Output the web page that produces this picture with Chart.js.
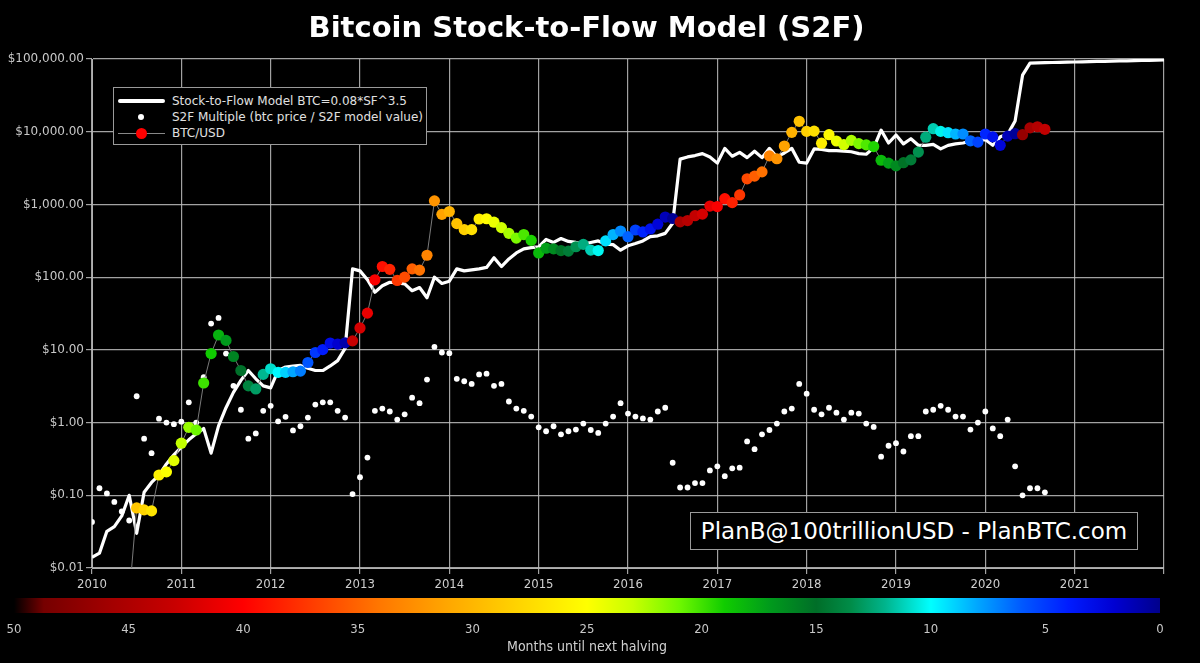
<!DOCTYPE html>
<html>
<head>
<meta charset="utf-8">
<script src="https://cdn.jsdelivr.net/npm/chart.js@4.4.0/dist/chart.umd.min.js"></script>
<style>
  body { margin: 0; background: #000; }
  #wrap { position: relative; width: 1200px; height: 663px; background: #000; overflow: hidden; font-family: 'DejaVu Sans', sans-serif; }
  #s2f { position: absolute; left: 0; top: 0; }
  .title { position: absolute; left: 0; top: 10px; width: 1173px; text-align: center; color: #fff; font: bold 29px 'DejaVu Sans', sans-serif; line-height: 34px; }
  .legend { position: absolute; left: 113px; top: 87px; width: 314px; height: 58px; box-sizing: border-box; border: 1px solid #9a9a9a; background: #000; color: #e0e0e0; font-size: 12px; padding-top: 5px; }
  .row { position: relative; height: 16px; line-height: 16px; padding-left: 58px; white-space: nowrap; }
  .sym { position: absolute; left: 4px; top: 0; width: 47px; height: 16px; }
  .ln { position: absolute; left: 0; top: 6px; width: 47px; height: 4px; background: #fff; border-radius: 2px; }
  .wd { position: absolute; left: 20px; top: 5px; width: 6px; height: 6px; border-radius: 50%; background: #fff; }
  .gl { position: absolute; left: 0; top: 8px; width: 47px; height: 1px; background: #888; }
  .rd { position: absolute; left: 18px; top: 3px; width: 11px; height: 11px; border-radius: 50%; background: #f00; }
  .mark { position: absolute; left: 690px; top: 512px; width: 448px; height: 38px; box-sizing: border-box; border: 1px solid #9a9a9a; background: #000; color: #fff; font-size: 23px; line-height: 36px; text-align: center; white-space: nowrap; }
  .cbar { position: absolute; left: 14px; top: 598px; width: 1146px; height: 15px; }
  .clab { position: absolute; top: 621px; width: 30px; margin-left: -15px; text-align: center; color: #c8c8c8; font: 13px 'DejaVu Sans Condensed', 'Liberation Sans Narrow', 'DejaVu Sans', sans-serif; }
  .ctitle { position: absolute; left: 0; top: 638px; width: 1174px; text-align: center; color: #d0d0d0; font: 14px 'DejaVu Sans Condensed', 'Liberation Sans Narrow', 'DejaVu Sans', sans-serif; }
</style>
</head>
<body>
<div id="wrap">
  <canvas id="s2f" width="1200" height="663"></canvas>
  <div class="title">Bitcoin Stock-to-Flow Model (S2F)</div>
  <div class="legend">
    <div class="row"><span class="sym"><i class="ln"></i></span>Stock-to-Flow Model BTC=0.08*SF^3.5</div>
    <div class="row"><span class="sym"><i class="wd"></i></span>S2F Multiple (btc price / S2F model value)</div>
    <div class="row"><span class="sym"><i class="gl"></i><i class="rd"></i></span>BTC/USD</div>
  </div>
  <div class="mark">PlanB@100trillionUSD - PlanBTC.com</div>
  <div class="cbar" id="cbar"></div>
  <div id="clabels"></div>
  <div class="ctitle">Months until next halving</div>
</div>
<script>
// monthly values, first month = Jan 2010
var startYear = 2010;

// S2F model value, Jan 2010 .. Jan 2022
var modelValues = [
  0.014, 0.016, 0.032, 0.037, 0.052, 0.10, 0.03, 0.11, 0.15, 0.19, 0.27, 0.36,
  0.46, 0.58, 0.70, 0.83, 0.38, 0.90, 1.6, 2.6, 3.8, 5.2, 4.0, 3.2,
  3.0, 5.2, 5.8, 6.0, 6.1, 5.6, 5.2, 5.2, 6.0, 7.1, 10.5, 130,
  122, 92, 62, 76, 85, 83, 81, 65, 72, 52, 100, 82,
  88, 130, 122, 126, 130, 136, 185, 140, 178, 215, 245, 255,
  260, 330, 300, 340, 310, 300, 285, 300, 315, 285, 280, 235,
  270, 290, 315, 360, 370, 400, 550, 4200, 4500, 4700, 5000, 4500,
  3700, 5900, 4600, 5200, 4400, 5400, 4400, 5900, 4500, 5100, 5900, 3800,
  3700, 5800, 5700, 5500, 5500, 5400, 5300, 5000, 4900, 6000, 10500, 7000,
  9000, 6800, 8000, 6500, 6500, 6700, 5800, 6500, 6800, 7000, 7400, 7700,
  7800, 6500, 8500, 9200, 14000, 60000, 88000, 88500, 89000, 89500, 90000, 90500,
  91000, 91500, 92000, 92500, 93000, 93500, 94000, 94500, 95000, 95500, 96000, 96500,
  97000
];

// BTC/USD price, Jan 2010 .. Sep 2020
var btcPrice = [
  0.0006, 0.002, 0.0035, 0.003, 0.003, 0.004, 0.067, 0.063, 0.061, 0.19, 0.21, 0.30,
  0.52, 0.86, 0.79, 3.5, 8.9, 16.0, 13.5, 8.1, 5.2, 3.2, 2.9, 4.6,
  5.5, 4.9, 4.9, 5.0, 5.1, 6.7, 9.2, 10.1, 12.4, 12.0, 12.5, 13.3,
  20, 32, 92, 140, 128, 90, 100, 130, 125, 200, 1120, 730,
  800, 545, 450, 450, 630, 635, 570, 480, 400, 345, 385, 320,
  215, 250, 245, 232, 228, 262, 282, 235, 232, 315, 385, 430,
  360, 445, 418, 460, 535, 670, 640, 575, 600, 700, 735, 950,
  935, 1200, 1060, 1350, 2250, 2450, 2800, 4650, 4250, 6350, 9800, 13900,
  10100, 10200, 6950, 9100, 7450, 6650, 7600, 6850, 6600, 6250, 4050, 3700,
  3400, 3750, 4100, 5250, 8400, 11000, 10100, 9700, 9300, 9300, 7500, 7200,
  9300, 8500, 6500, 8700, 9400, 9100, 11300, 11700, 10800
];

// S2F multiple (btc price / model), Jan 2010 .. Sep 2020
var s2fMultiple = [
  0.043, 0.125, 0.106, 0.081, 0.06, 0.045, 2.3, 0.6, 0.38, 1.13, 1.0, 0.95,
  1.03, 1.9, 1.0, 4.2, 23, 27.5, 8.9, 3.2, 1.5, 0.6, 0.71, 1.45,
  1.7, 1.04, 1.2, 0.78, 0.89, 1.17, 1.77, 1.9, 1.9, 1.45, 1.17, 0.104,
  0.177, 0.33, 1.45, 1.56, 1.42, 1.1, 1.3, 2.2, 1.85, 3.9, 11, 9.2,
  9.0, 4.0, 3.7, 3.4, 4.6, 4.7, 3.2, 3.4, 1.95, 1.56, 1.45, 1.21,
  0.86, 0.76, 0.89, 0.69, 0.76, 0.8, 0.97, 0.79, 0.72, 0.97, 1.21, 1.85,
  1.33, 1.21, 1.14, 1.1, 1.42, 1.6, 0.28, 0.128, 0.128, 0.147, 0.147, 0.22,
  0.25, 0.183, 0.235, 0.24, 0.55, 0.43, 0.69, 0.79, 0.97, 1.42, 1.56, 3.4,
  2.5, 1.5, 1.3, 1.6, 1.37, 1.1, 1.37, 1.33, 0.97, 0.87, 0.34, 0.48,
  0.52, 0.4, 0.65, 0.65, 1.42, 1.5, 1.7, 1.5, 1.21, 1.21, 0.8, 1.0,
  1.42, 0.83, 0.65, 1.1, 0.25, 0.1, 0.125, 0.125, 0.11
];

var halvings = ["2012-11-28", "2016-07-09", "2020-05-11", "2024-04-20"];

var yTicks = [0.01, 0.1, 1, 10, 100, 1000, 10000, 100000];
var colorbarTicks = [50, 45, 40, 35, 30, 25, 20, 15, 10, 5, 0];

// months-until-halving -> colour
var colorStops = [
  [0, "#00008c"], [2, "#0000d2"], [4, "#001cff"], [6, "#0058ff"], [8, "#00a8ff"],
  [10, "#00ffff"], [12, "#00b48c"], [13.5, "#008c48"], [15, "#006e28"], [17, "#009a1c"],
  [19, "#10cc00"], [21, "#70f800"], [23, "#c8ff00"], [25, "#ffff00"], [28, "#ffd400"],
  [31, "#ffa800"], [34, "#ff7800"], [37, "#ff3c00"], [40, "#ff0000"], [43, "#c80000"],
  [46, "#a00000"], [48.7, "#760000"], [50, "#000000"]
];

function hexRgb(h) {
  return [parseInt(h.substr(1, 2), 16), parseInt(h.substr(3, 2), 16), parseInt(h.substr(5, 2), 16)];
}

function monthColor(m) {
  if (m <= colorStops[0][0]) return colorStops[0][1];
  for (var i = 1; i < colorStops.length; i++) {
    if (m <= colorStops[i][0]) {
      var a = colorStops[i - 1], b = colorStops[i];
      var t = (m - a[0]) / (b[0] - a[0]);
      var ca = hexRgb(a[1]), cb = hexRgb(b[1]);
      var c = ca.map(function (v, k) { return Math.round(v + (cb[k] - v) * t); });
      return "rgb(" + c.join(",") + ")";
    }
  }
  return colorStops[colorStops.length - 1][1];
}

function monthsToHalving(i) {
  var d = Date.UTC(startYear, i, 1);
  for (var k = 0; k < halvings.length; k++) {
    var h = Date.parse(halvings[k] + "T00:00:00Z");
    if (h > d) return (h - d) / (86400000 * 30.44);
  }
  return 0;
}

function monthX(i) {
  return startYear + i / 12;
}

var modelData = modelValues.map(function (v, i) { return { x: monthX(i), y: v }; });
var btcData = btcPrice.map(function (v, i) { return { x: monthX(i), y: v }; });
var multData = s2fMultiple.map(function (v, i) { return { x: monthX(i), y: v }; });
var btcColors = btcPrice.map(function (v, i) { return monthColor(monthsToHalving(i)); });

// colour bar and its labels
var grad = colorStops.slice().reverse().map(function (s) {
  return s[1] + " " + ((50 - s[0]) / 50 * 100).toFixed(2) + "%";
});
document.getElementById("cbar").style.background = "linear-gradient(to right, " + grad.join(", ") + ")";
var clabels = document.getElementById("clabels");
colorbarTicks.forEach(function (m) {
  var el = document.createElement("div");
  el.className = "clab";
  el.style.left = (14 + (50 - m) / 50 * 1146) + "px";
  el.textContent = m;
  clabels.appendChild(el);
});

var gridColor = "rgba(190,190,190,0.85)";
var tickFont = { family: "'DejaVu Sans', sans-serif", size: 12 };
var yearFont = { family: "'DejaVu Sans Condensed', 'Liberation Sans Narrow', 'DejaVu Sans', sans-serif", size: 13 };

var ctx = document.getElementById("s2f").getContext("2d");
var chart = new Chart(ctx, {
  type: "line",
  data: {
    datasets: [
      {
        label: "BTC/USD",
        data: btcData,
        borderColor: "#7a7a7a",
        borderWidth: 1,
        pointRadius: 5.6,
        pointBorderWidth: 0,
        pointBackgroundColor: btcColors,
        order: 0,
      },
      {
        label: "S2F Multiple (btc price / S2F model value)",
        data: multData,
        showLine: false,
        pointRadius: 2.9,
        pointBorderWidth: 0,
        pointBackgroundColor: "#ffffff",
        order: 1,
      },
      {
        label: "Stock-to-Flow Model BTC=0.08*SF^3.5",
        data: modelData,
        borderColor: "#ffffff",
        borderWidth: 3.2,
        pointRadius: 0,
        borderJoinStyle: "round",
        order: 2,
      },
    ],
  },
  options: {
    responsive: false,
    animation: false,
    devicePixelRatio: 1,
    layout: { padding: { left: 0, right: 36, top: 59, bottom: 73 } },
    plugins: { legend: { display: false }, title: { display: false }, tooltip: { enabled: false } },
    scales: {
      x: {
        type: "linear",
        min: 2010,
        max: 2022,
        afterFit: function (scale) { scale.height = 22; },
        ticks: {
          stepSize: 1,
          color: "#cfcfcf",
          font: yearFont,
          padding: 3,
          maxRotation: 0,
          callback: function (v) { return v >= 2022 ? "" : String(v); },
        },
        grid: { color: gridColor, lineWidth: 1.2, tickLength: 6 },
        border: { color: "#b0b0b0" },
      },
      y: {
        type: "logarithmic",
        min: 0.01,
        max: 100000,
        afterFit: function (scale) { scale.width = 92; },
        afterBuildTicks: function (scale) {
          scale.ticks = yTicks.map(function (v) { return { value: v }; });
        },
        ticks: {
          autoSkip: false,
          color: "#c8c8c8",
          font: tickFont,
          padding: 2,
          callback: function (v) {
            return "$" + Number(v).toLocaleString("en-US", { minimumFractionDigits: 2, maximumFractionDigits: 2 });
          },
        },
        grid: { color: gridColor, lineWidth: 1.2, tickLength: 6 },
        border: { color: "#b0b0b0" },
      },
    },
  },
});
</script>
</body>
</html>
